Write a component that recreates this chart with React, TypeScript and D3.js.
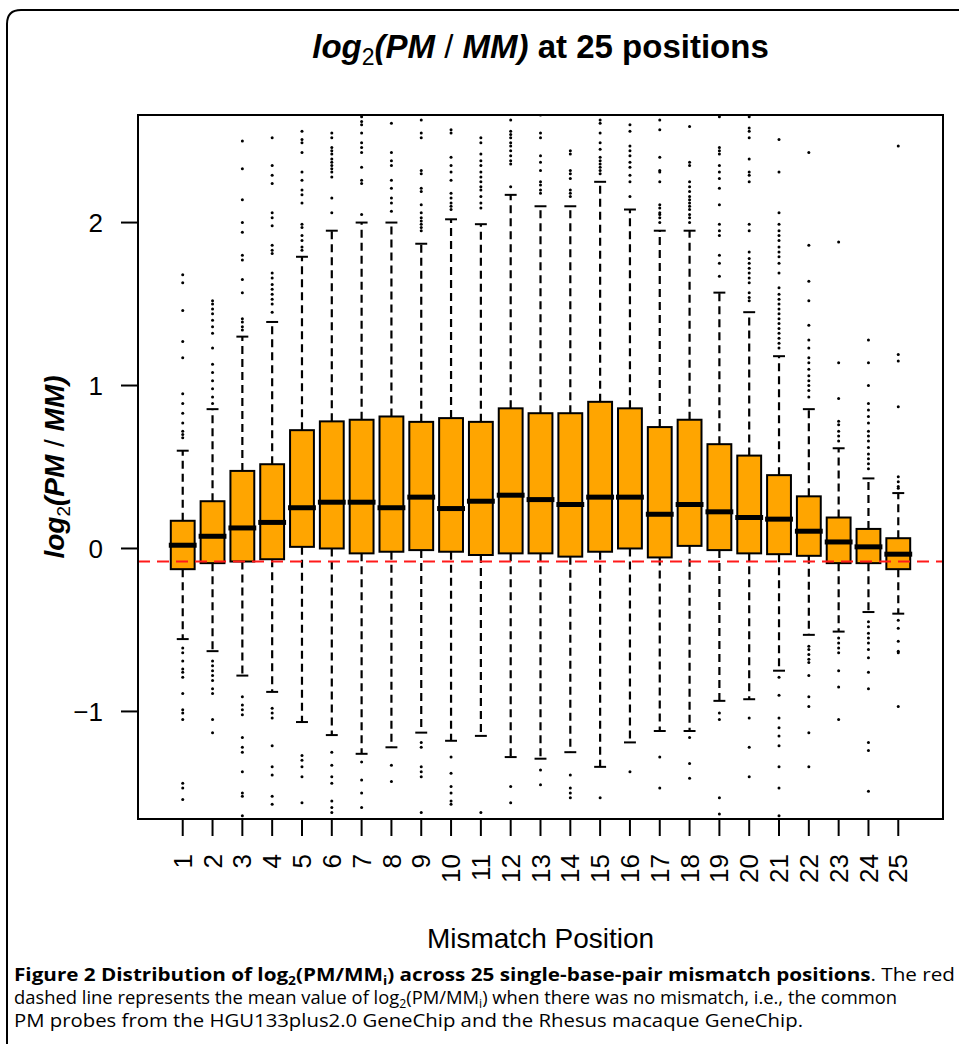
import React from 'react';
import * as d3 from 'd3';

// chart data
const positions = ['1', '2', '3', '4', '5', '6', '7', '8', '9', '10', '11', '12', '13', '14', '15', '16', '17', '18', '19', '20', '21', '22', '23', '24', '25'];

const q1 = [-0.127, -0.09, -0.08, -0.066, 0.01, 0.0, -0.03, -0.02, -0.01, -0.02, -0.04, -0.03, -0.03, -0.05, -0.02, 0.0, -0.055, 0.016, -0.01, -0.03, -0.035, -0.045, -0.09, -0.09, -0.127];
const medians = [0.02, 0.075, 0.126, 0.16, 0.25, 0.284, 0.284, 0.25, 0.315, 0.245, 0.29, 0.327, 0.30, 0.27, 0.315, 0.315, 0.21, 0.27, 0.225, 0.19, 0.18, 0.106, 0.04, 0.01, -0.035];
const q3 = [0.17, 0.29, 0.476, 0.517, 0.726, 0.78, 0.79, 0.81, 0.777, 0.80, 0.777, 0.86, 0.83, 0.83, 0.90, 0.86, 0.745, 0.79, 0.64, 0.57, 0.45, 0.32, 0.19, 0.12, 0.063];
const whiskerLow = [-0.556, -0.63, -0.78, -0.88, -1.065, -1.145, -1.26, -1.22, -1.13, -1.18, -1.15, -1.28, -1.29, -1.25, -1.34, -1.19, -1.12, -1.12, -0.935, -0.925, -0.75, -0.53, -0.51, -0.39, -0.40];
const whiskerHigh = [0.60, 0.855, 1.30, 1.39, 1.79, 1.95, 2.0, 2.0, 1.87, 2.02, 1.99, 2.17, 2.10, 2.10, 2.25, 2.08, 1.95, 1.95, 1.57, 1.45, 1.18, 0.855, 0.615, 0.43, 0.34];

const outliersHigh = [
  [1.68, 1.63, 1.46, 1.27, 1.17, 0.95, 0.89, 0.83, 0.77, 0.72, 0.70, 0.68],
  [1.52, 1.50, 1.47, 1.44, 1.40, 1.36, 1.32, 1.23, 1.13, 1.08, 1.03, 0.98, 0.93, 0.89],
  [2.50, 2.33, 2.14, 2.0, 1.94, 1.80, 1.77, 1.65, 1.57, 1.41, 1.39, 1.36, 1.34],
  [2.52, 2.35, 2.29, 2.24, 2.06, 2.03, 1.98, 1.86, 1.83, 1.81, 1.69, 1.66, 1.62, 1.59, 1.56, 1.53, 1.50, 1.45],
  [2.56, 2.51, 2.49, 2.43, 2.31, 2.26, 2.20, 2.17, 2.12, 1.99, 1.97, 1.92, 1.89, 1.85, 1.83],
  [2.55, 2.52, 2.46, 2.44, 2.42, 2.39, 2.37, 2.35, 2.33, 2.31, 2.28, 2.15, 2.06],
  [2.65, 2.62, 2.60, 2.55, 2.49, 2.46, 2.43, 2.34, 2.26, 2.24, 2.05],
  [2.61, 2.43, 2.38, 2.35, 2.26, 2.21, 2.15, 2.12, 2.07],
  [2.63, 2.55, 2.52, 2.32, 2.30, 2.21, 2.19, 2.11, 2.06, 2.03, 2.01, 1.99, 1.97, 1.95],
  [2.57, 2.55, 2.40, 2.35, 2.31, 2.26, 2.18, 2.15, 2.12, 2.10, 2.08],
  [2.52, 2.49, 2.42, 2.38, 2.35, 2.31, 2.28, 2.25, 2.22, 2.20, 2.16, 2.12, 2.09],
  [2.63, 2.56, 2.54, 2.52, 2.49, 2.47, 2.44, 2.41, 2.38, 2.36, 2.22],
  [2.66, 2.55, 2.52, 2.41, 2.37, 2.32, 2.25, 2.23, 2.20, 2.18],
  [2.44, 2.42, 2.32, 2.30, 2.27, 2.20, 2.18, 2.16],
  [2.63, 2.61, 2.55, 2.49, 2.45, 2.40, 2.38, 2.36, 2.34, 2.32, 2.30],
  [2.60, 2.56, 2.47, 2.44, 2.41, 2.37, 2.34, 2.29, 2.25, 2.16],
  [2.63, 2.57, 2.40, 2.32, 2.31, 2.25, 2.11, 2.09, 2.06, 2.05, 2.03, 2.0],
  [2.59, 2.37, 2.35, 2.25, 2.22, 2.19, 2.16, 2.14, 2.12, 2.10, 2.08, 2.05, 2.03, 2.0],
  [2.65, 2.46, 2.44, 2.42, 2.35, 2.31, 2.27, 2.21, 2.11, 1.99, 1.95, 1.92, 1.80, 1.75, 1.67],
  [2.65, 2.58, 2.56, 2.52, 2.39, 2.31, 2.29, 2.25, 1.99, 1.95, 1.82, 1.78, 1.75, 1.72, 1.69, 1.66, 1.63, 1.57, 1.54, 1.52],
  [2.51, 2.31, 2.06, 1.99, 1.95, 1.92, 1.89, 1.85, 1.82, 1.79, 1.75, 1.69, 1.60, 1.56, 1.53, 1.50, 1.47, 1.44, 1.41, 1.38, 1.35, 1.32, 1.29, 1.26, 1.23],
  [2.43, 1.86, 1.64, 1.52, 1.37, 1.28, 1.23, 1.17, 1.14, 1.10, 1.06, 1.03, 1.0, 0.97, 0.93],
  [1.88, 1.14, 0.92, 0.78, 0.76, 0.72, 0.69, 0.66],
  [1.28, 1.14, 1.0, 0.89, 0.85, 0.81, 0.77, 0.72, 0.69, 0.66, 0.62, 0.58, 0.55, 0.52, 0.49],
  [2.47, 1.19, 1.15, 0.87, 0.44, 0.41, 0.38, 0.37],
];

const outliersLow = [
  [-0.61, -0.64, -0.69, -0.74, -0.76, -0.79, -0.89, -0.99, -1.01, -1.05, -1.44, -1.47, -1.54],
  [-0.69, -0.72, -0.75, -0.78, -0.81, -0.86, -0.89, -1.05, -1.13],
  [-0.91, -0.96, -0.99, -1.02, -1.16, -1.22, -1.25, -1.37, -1.5, -1.52, -1.64],
  [-0.98, -1.01, -1.04, -1.21, -1.34, -1.39, -1.52, -1.57],
  [-1.27, -1.30, -1.34, -1.40, -1.56],
  [-1.25, -1.33, -1.40, -1.44, -1.55, -1.59, -1.62],
  [-1.31, -1.42, -1.50, -1.59],
  [-1.33, -1.43],
  [-1.19, -1.22, -1.34, -1.37, -1.40, -1.62],
  [-1.28, -1.38, -1.46, -1.50, -1.55, -1.57],
  [-1.62],
  [-1.46, -1.56],
  [-1.36, -1.45],
  [-1.39, -1.47, -1.50, -1.53],
  [-1.53],
  [-1.37],
  [-1.28, -1.47],
  [-1.16, -1.32, -1.41],
  [-1.01, -1.05, -1.53, -1.63],
  [-1.04, -1.22, -1.40],
  [-0.79, -0.90, -1.04, -1.10, -1.15, -1.21, -1.34, -1.47, -1.64],
  [-0.60, -0.62, -0.65, -0.68, -0.70, -0.78, -0.91, -0.97, -1.13, -1.34],
  [-0.55, -0.58, -0.61, -0.64, -0.75, -0.85, -1.05],
  [-0.45, -0.48, -0.52, -0.55, -0.58, -0.62, -0.67, -0.76, -0.86, -1.19, -1.24, -1.49],
  [-0.44, -0.49, -0.57, -0.63, -0.64, -0.97],
];

const yTicks = [-1, 0, 1, 2];
const noMismatchMean = -0.08;

const W = 959;
const H = 1044;
const plot = {left: 138, right: 943, top: 115, bottom: 819};

export default function App() {
  // R style axis: positions 1..25 with 4% padding on each side
  const x = d3.scaleLinear().domain([-0.5, 26.5]).range([plot.left, plot.right]);
  const y = d3.scaleLinear().domain([-1.66, 2.66]).range([plot.bottom, plot.top]);
  const boxW = (x(1) - x(0)) * 0.8;
  const stapleW = boxW * 0.5;

  const boxes = positions.map((p, i) => ({
    label: p,
    cx: x(i + 1),
    q1: q1[i], med: medians[i], q3: q3[i],
    lo: whiskerLow[i], hi: whiskerHigh[i],
    outs: [...outliersHigh[i], ...outliersLow[i]],
  }));

  const sans = '"Liberation Sans", Arial, Helvetica, sans-serif';
  const capFont = '"Open Sans", "Liberation Sans", sans-serif';

  return (
    <svg width={W} height={H} style={{position: 'absolute', left: 0, top: 0, display: 'block', background: '#fff'}}>
      <defs>
        <clipPath id="plotClip">
          <rect x={plot.left} y={plot.top} width={plot.right - plot.left} height={plot.bottom - plot.top} />
        </clipPath>
      </defs>

      {/* outer figure frame */}
      <path d={`M7,${H} V24 Q7,10 21,10 H${W}`} fill="none" stroke="#000" strokeWidth={2} />

      {/* title */}
      <text x={(plot.left + plot.right) / 2} y={58} textAnchor="middle" fontFamily={sans} fontSize={33} fontWeight="bold">
        <tspan fontStyle="italic">log</tspan>
        <tspan fontWeight="normal" fontSize={23} baselineShift="-7">2</tspan>
        <tspan fontStyle="italic">(PM</tspan>
        <tspan fontWeight="normal"> / </tspan>
        <tspan fontStyle="italic">MM)</tspan>
        <tspan> at 25 positions</tspan>
      </text>

      <g clipPath="url(#plotClip)">
        {boxes.map((b, i) => (
          <g key={i}>
            {/* whiskers */}
            <line x1={b.cx} x2={b.cx} y1={y(b.q3)} y2={y(b.hi)} stroke="#000" strokeWidth={2.2} strokeDasharray="8 5" />
            <line x1={b.cx} x2={b.cx} y1={y(b.q1)} y2={y(b.lo)} stroke="#000" strokeWidth={2.2} strokeDasharray="8 5" />
            <line x1={b.cx - stapleW / 2} x2={b.cx + stapleW / 2} y1={y(b.hi)} y2={y(b.hi)} stroke="#000" strokeWidth={2} />
            <line x1={b.cx - stapleW / 2} x2={b.cx + stapleW / 2} y1={y(b.lo)} y2={y(b.lo)} stroke="#000" strokeWidth={2} />
            {/* box */}
            <rect x={b.cx - boxW / 2} y={y(b.q3)} width={boxW} height={y(b.q1) - y(b.q3)} fill="#FFA500" stroke="#000" strokeWidth={2} />
            <line x1={b.cx - boxW / 2 - 2} x2={b.cx + boxW / 2 + 2} y1={y(b.med)} y2={y(b.med)} stroke="#000" strokeWidth={5} />
            {/* outliers */}
            {b.outs.map((o, j) => (
              <circle key={j} cx={b.cx} cy={y(o)} r={1.5} fill="#000" />
            ))}
          </g>
        ))}
        {/* mean with no mismatch */}
        <line x1={plot.left} x2={plot.right} y1={y(noMismatchMean)} y2={y(noMismatchMean)} stroke="#ff1a1a" strokeWidth={2} strokeDasharray="12 7" />
      </g>

      {/* plot frame */}
      <rect x={plot.left} y={plot.top} width={plot.right - plot.left} height={plot.bottom - plot.top} fill="none" stroke="#000" strokeWidth={2} />

      {/* y axis */}
      {yTicks.map(t => (
        <g key={t}>
          <line x1={plot.left - 17} x2={plot.left} y1={y(t)} y2={y(t)} stroke="#000" strokeWidth={2} />
          <text x={103} y={y(t)} dy="0.35em" textAnchor="end" fontFamily={sans} fontSize={26}>{t < 0 ? '\u2212' + Math.abs(t) : t}</text>
        </g>
      ))}
      <text transform={`translate(64,${(plot.top + plot.bottom) / 2}) rotate(-90)`} textAnchor="middle" fontFamily={sans} fontSize={28} fontWeight="bold">
        <tspan fontStyle="italic">log</tspan>
        <tspan fontWeight="normal" fontSize={19} baselineShift="-6">2</tspan>
        <tspan fontStyle="italic">(PM</tspan>
        <tspan fontWeight="normal"> / </tspan>
        <tspan fontStyle="italic">MM)</tspan>
      </text>

      {/* x axis */}
      {boxes.map((b, i) => (
        <g key={i}>
          <line x1={b.cx} x2={b.cx} y1={plot.bottom} y2={plot.bottom + 17} stroke="#000" strokeWidth={2} />
          <text transform={`translate(${b.cx},854) rotate(-90)`} dy="0.35em" textAnchor="end" fontFamily={sans} fontSize={26}>{b.label}</text>
        </g>
      ))}
      <text x={(plot.left + plot.right) / 2} y={948} textAnchor="middle" fontFamily={sans} fontSize={28}>Mismatch Position</text>

      {/* caption */}
      <text x={14} y={981} fontFamily={capFont} fontSize={18} textLength={941} lengthAdjust="spacingAndGlyphs">
        <tspan fontWeight="bold">Figure 2 Distribution of log</tspan>
        <tspan fontWeight="bold" fontSize={12} baselineShift="-4">2</tspan>
        <tspan fontWeight="bold">(PM/MM</tspan>
        <tspan fontWeight="bold" fontSize={12} baselineShift="-4">i</tspan>
        <tspan fontWeight="bold">) across 25 single-base-pair mismatch positions</tspan>
        <tspan>. The red</tspan>
      </text>
      <text x={14} y={1004} fontFamily={capFont} fontSize={18} textLength={883} lengthAdjust="spacingAndGlyphs">
        <tspan>dashed line represents the mean value of log</tspan>
        <tspan fontSize={12} baselineShift="-4">2</tspan>
        <tspan>(PM/MM</tspan>
        <tspan fontSize={12} baselineShift="-4">i</tspan>
        <tspan>) when there was no mismatch, i.e., the common</tspan>
      </text>
      <text x={14} y={1027} fontFamily={capFont} fontSize={18} textLength={789} lengthAdjust="spacingAndGlyphs">
        PM probes from the HGU133plus2.0 GeneChip and the Rhesus macaque GeneChip.
      </text>
    </svg>
  );
}
